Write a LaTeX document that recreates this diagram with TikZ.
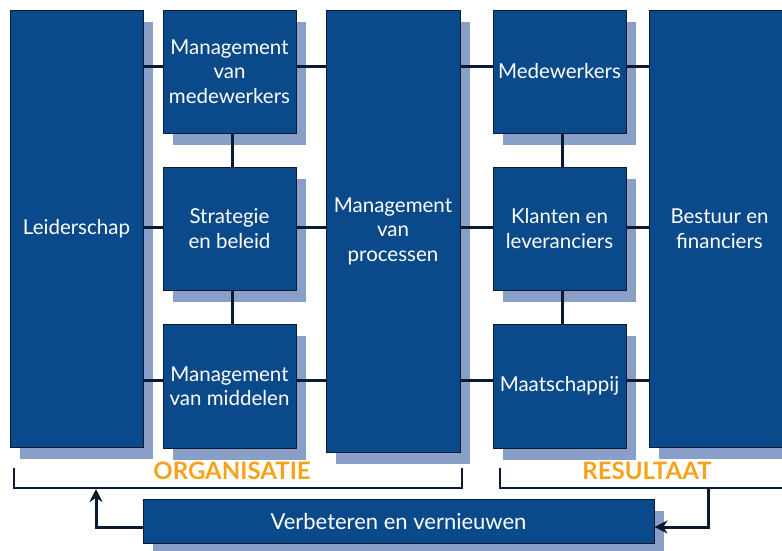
\documentclass[tikz,border=0pt]{standalone}
\usepackage{fontspec}
\setmainfont{Lato}
\usetikzlibrary{shadows,arrows.meta}
\definecolor{boxblue}{HTML}{0B4A8A}
\definecolor{shadowblue}{HTML}{8A9FC7}
\definecolor{navy}{HTML}{0A1A33}
\definecolor{orangeT}{HTML}{F7A21B}
\begin{document}
\begin{tikzpicture}[x=1pt,y=1pt,
  box/.style={rectangle, fill=boxblue, draw=navy, line width=1pt, text=white,
    align=center, inner sep=0pt, font=\fontsize{20.5}{24.5}\selectfont,
    drop shadow={shadow xshift=10pt, shadow yshift=-12pt, fill=shadowblue, opacity=1}},
  conn/.style={draw=navy, line width=3pt},
  brk/.style={draw=navy, line width=2.5pt},
  arr/.style={draw=navy, line width=3pt, -{Stealth[length=13pt,width=13pt]}},
  grp/.style={text=orangeT, font=\fontsize{24}{26}\selectfont\bfseries}]
\useasboundingbox (0,0) rectangle (782,-550);
\clip (0,0) rectangle (782,-550);
% boxes
\node[box, minimum width=133pt, minimum height=437pt] (lead) at (76.5,-228.5) {Leiderschap};
\node[box, minimum width=133pt, minimum height=123pt] (mm) at (229.5,-71.5) {Management\\van\\medewerkers};
\node[box, minimum width=133pt, minimum height=123pt] (strat) at (229.5,-228.5) {Strategie\\en beleid};
\node[box, minimum width=133pt, minimum height=124pt] (mid) at (229.5,-386) {Management\\van middelen};
\node[box, minimum width=134pt, minimum height=442pt] (proc) at (393,-231) {Management\\van\\processen};
\node[box, minimum width=133pt, minimum height=123pt] (med) at (559.5,-71.5) {Medewerkers};
\node[box, minimum width=133pt, minimum height=123pt] (klant) at (559.5,-228.5) {Klanten en\\leveranciers};
\node[box, minimum width=133pt, minimum height=124pt] (maat) at (559.5,-386) {Maatschappij};
\node[box, minimum width=141pt, minimum height=437pt] (best) at (719.5,-228.5) {Bestuur en\\financiers};
\node[box, minimum width=511pt, minimum height=44pt, font=\fontsize{22}{24}\selectfont] (verb) at (398.5,-521) {Verbeteren en vernieuwen};
% horizontal connectors
\foreach \a/\b/\yy in {lead/mm/66, mm/proc/66, lead/strat/227, strat/proc/227, lead/mid/380, mid/proc/380,
  proc/med/66, med/best/66, proc/klant/227, klant/best/227, proc/maat/380, maat/best/380}
  \draw[conn] (\a.east |- 0,-\yy) -- (\b.west |- 0,-\yy);
% vertical connectors
\draw[conn] (mm.south -| 232,0) -- (strat.north -| 232,0);
\draw[conn] (strat.south -| 232,0) -- (mid.north -| 232,0);
\draw[conn] (med.south -| 562,0) -- (klant.north -| 562,0);
\draw[conn] (klant.south -| 562,0) -- (maat.north -| 562,0);
% brackets
\coordinate (oL) at (14,-468);
\coordinate (oR) at (462,-468);
\coordinate (rL) at (500,-468);
\coordinate (rR) at (790,-488);
\draw[brk] (oL) -- (14,-488) -- (462,-488) -- (oR);
\draw[brk] (rL) -- (500,-488) -- (rR);
\node[grp] (org) at (232,-471) {ORGANISATIE};
\node[grp] (res) at (647,-471) {RESULTAAT};
% feedback arrows
\coordinate (oA) at (96,-489);
\coordinate (rA) at (708,-488);
\draw[arr] (verb.west |- 0,-527) -| (oA);
\draw[arr] (rA) |- (verb.east |- 0,-527);
\end{tikzpicture}
\end{document}
